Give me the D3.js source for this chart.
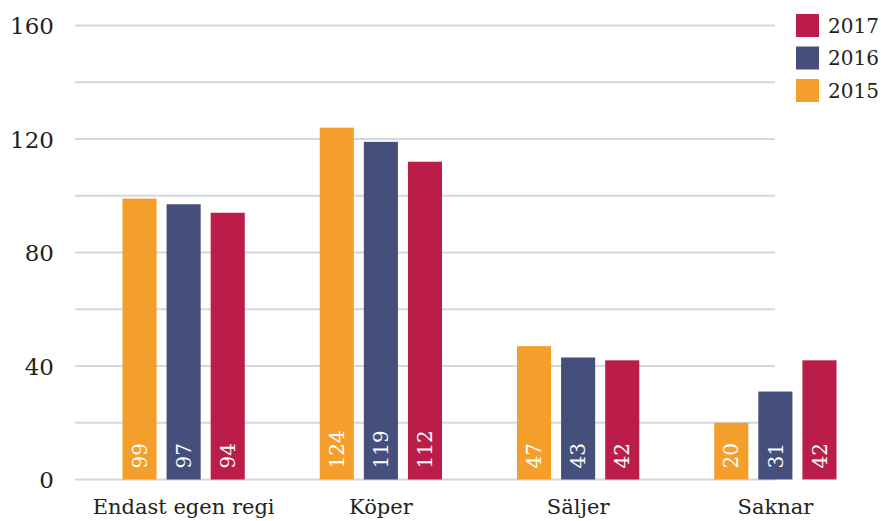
<!DOCTYPE html>
<html>
<head>
<meta charset="utf-8">
<script src="https://cdn.jsdelivr.net/npm/d3@7/dist/d3.min.js"></script>
<style>
  html, body { margin: 0; padding: 0; background: #fff; }
  svg { display: block; }
</style>
</head>
<body>
<svg id="chart" width="881" height="521"></svg>
<script>
const categories = ["Endast egen regi", "Köper", "Säljer", "Saknar"];
const seriesNames = ["2015", "2016", "2017"];
const values2015 = [99, 124, 47, 20];
const values2016 = [97, 119, 43, 31];
const values2017 = [94, 112, 42, 42];
const yTicks = [0, 40, 80, 120, 160];
const gridTicks = [0, 20, 40, 60, 80, 100, 120, 140, 160];
const colors = ["#F49E2B", "#454F7B", "#BB1D4B"];

const FONT = "DejaVu Serif";
const seriesValues = [values2015, values2016, values2017];
const svg = d3.select("#chart").style("font-family", FONT);

const y = d3.scaleLinear().domain([0, 160]).range([479.5, 25.5]);
const x0 = d3.scaleBand().domain(categories).range([85, 874]).paddingInner(0.38).paddingOuter(0.19);
const x1 = d3.scaleBand().domain(seriesNames).range([0, x0.bandwidth()]).paddingInner(0.227).paddingOuter(0);
const color = d3.scaleOrdinal().domain(seriesNames).range(colors);

// gridlines
svg.append("g").selectAll("line").data(gridTicks).join("line")
  .attr("x1", 75).attr("x2", 775)
  .attr("y1", d => y(d)).attr("y2", d => y(d))
  .attr("stroke", "#D4D6E1").attr("stroke-width", 2);

// y axis labels
const yAxis = d3.axisLeft(y).tickValues(yTicks).tickSize(0).tickPadding(0).tickFormat(d3.format("d"));
const yg = svg.append("g").attr("transform", "translate(54,0)").call(yAxis);
yg.attr("font-family", null).attr("font-size", null);
yg.select(".domain").remove();
yg.selectAll("text").style("font-size", "23px").style("font-family", FONT).attr("fill", "#231F20")
  .attr("dy", "0.36em");

// x axis labels
const xAxis = d3.axisBottom(x0).tickSize(0).tickPadding(0);
const xg = svg.append("g").call(xAxis);
xg.attr("font-family", null).attr("font-size", null);
xg.select(".domain").remove();
xg.selectAll("text").style("font-size", "21px").style("font-family", FONT).attr("fill", "#231F20")
  .attr("y", 514).attr("dy", 0);

// bars
const data = categories.map((c, i) => ({
  cat: c,
  vals: seriesNames.map((s, j) => ({ series: s, value: seriesValues[j][i] }))
}));

const groups = svg.append("g").selectAll("g").data(data).join("g")
  .attr("transform", d => `translate(${x0(d.cat)},0)`);

groups.selectAll("rect").data(d => d.vals).join("rect")
  .attr("x", d => x1(d.series))
  .attr("y", d => y(d.value))
  .attr("width", x1.bandwidth())
  .attr("height", d => y(0) - y(d.value))
  .attr("fill", d => color(d.series));

groups.selectAll("text.val").data(d => d.vals).join("text")
  .attr("class", "val")
  .attr("transform", d => `translate(${x1(d.series) + x1.bandwidth() / 2},${y(0) - 11}) rotate(-90)`)
  .attr("text-anchor", "start")
  .attr("dy", "0.36em")
  .style("font-size", "20px")
  .style("font-family", FONT)
  .attr("fill", "#fff")
  .text(d => d.value);

// legend
const legendItems = ["2017", "2016", "2015"];
const lg = svg.append("g").selectAll("g").data(legendItems).join("g")
  .attr("transform", (d, i) => `translate(796,${14 + i * 32.5})`);
lg.append("rect").attr("width", 23).attr("height", 23).attr("fill", d => color(d));
lg.append("text").attr("x", 32).attr("y", 11.5).attr("dy", "0.36em")
  .style("font-size", "20px").style("font-family", FONT)
  .attr("fill", "#231F20").text(d => d);
</script>
</body>
</html>
